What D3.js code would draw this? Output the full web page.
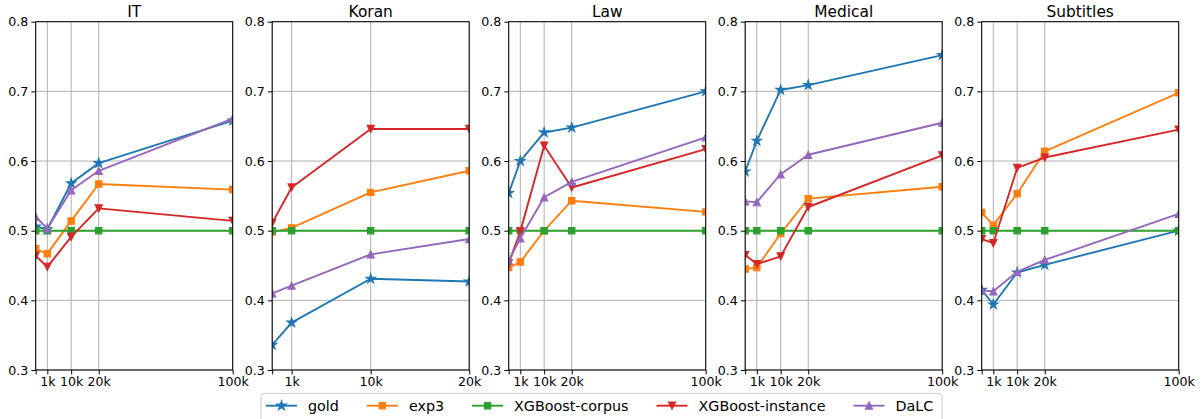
<!DOCTYPE html>
<html>
<head>
<meta charset="utf-8">
<script src="https://cdn.jsdelivr.net/npm/d3@7"></script>
<style>
  body { margin: 0; background: #fff; }
  svg { display: block; font-family: "DejaVu Sans", sans-serif; }
</style>
</head>
<body>
<div id="chart"></div>
<script>
// data
const domains = ['IT', 'Koran', 'Law', 'Medical', 'Subtitles']
const methods = ['gold', 'exp3', 'XGBoost-corpus', 'XGBoost-instance', 'DaLC']
const sizesFull = [0, 1000, 10000, 20000, 100000]
const sizesKoran = [0, 1000, 10000, 20000]
const yTicks = [0.3, 0.4, 0.5, 0.6, 0.7, 0.8]

// one row per domain, one value per sample size
const gold = [
  [0.506, 0.502, 0.568, 0.597, 0.658],
  [0.336, 0.368, 0.431, 0.427],
  [0.554, 0.600, 0.641, 0.648, 0.700],
  [0.585, 0.629, 0.702, 0.709, 0.752],
  [0.415, 0.394, 0.440, 0.451, 0.500]
]
const exp3 = [
  [0.474, 0.467, 0.514, 0.567, 0.559],
  [0.498, 0.504, 0.555, 0.586],
  [0.447, 0.455, 0.500, 0.543, 0.527],
  [0.445, 0.447, 0.496, 0.546, 0.563],
  [0.526, 0.508, 0.553, 0.614, 0.698]
]
const xgbCorpus = [
  [0.5, 0.5, 0.5, 0.5, 0.5],
  [0.5, 0.5, 0.5, 0.5],
  [0.5, 0.5, 0.5, 0.5, 0.5],
  [0.5, 0.5, 0.5, 0.5, 0.5],
  [0.5, 0.5, 0.5, 0.5, 0.5]
]
const xgbInstance = [
  [0.464, 0.448, 0.491, 0.532, 0.514],
  [0.511, 0.562, 0.646, 0.646],
  [0.453, 0.499, 0.622, 0.562, 0.617],
  [0.465, 0.452, 0.463, 0.534, 0.608],
  [0.488, 0.482, 0.590, 0.605, 0.645]
]
const dalc = [
  [0.520, 0.503, 0.558, 0.586, 0.661],
  [0.410, 0.421, 0.466, 0.488],
  [0.457, 0.489, 0.548, 0.570, 0.634],
  [0.542, 0.541, 0.581, 0.609, 0.655],
  [0.414, 0.413, 0.441, 0.458, 0.524]
]
const seriesValues = [gold, exp3, xgbCorpus, xgbInstance, dalc]

// styles
const colors = ['#1f77b4', '#ff7f0e', '#2ca02c', '#d62728', '#9467bd']

// matplotlib style triangles
const triUp = {
  draw(ctx, size) {
    const h = Math.sqrt(size) / 2
    ctx.moveTo(0, -h); ctx.lineTo(h, h); ctx.lineTo(-h, h); ctx.closePath()
  }
}
const triDown = {
  draw(ctx, size) {
    const h = Math.sqrt(size) / 2
    ctx.moveTo(0, h); ctx.lineTo(h, -h); ctx.lineTo(-h, -h); ctx.closePath()
  }
}
const markers = [
  d3.symbol(d3.symbolStar, 28),
  d3.symbol(d3.symbolSquare, 40),
  d3.symbol(d3.symbolSquare, 40),
  d3.symbol(triDown, 52),
  d3.symbol(triUp, 52)
]

// dimensions
const width = 1203, height = 419
const panel = { left: 35.7, step: 236.5, width: 197, top: 21.7, bottom: 370 }

const svg = d3.select('#chart')
              .append('svg')
              .attr('width', width)
              .attr('height', height)

const yScale = d3.scaleLinear()
                 .domain([0.3, 0.8])
                 .range([panel.bottom, panel.top])

const fmtK = v => v === 0 ? '' : (v / 1000) + 'k'

domains.forEach((name, di) => {
  const sizes = name === 'Koran' ? sizesKoran : sizesFull
  const stops = name === 'Koran' ? [0, 0.0985, 0.5, 1] : [0, 0.059, 0.18, 0.32, 1]
  const x0 = panel.left + di * panel.step

  const xScale = d3.scaleLinear()
                   .domain(sizes)
                   .range(stops.map(s => x0 + s * panel.width))

  const g = svg.append('g')

  // clip
  g.append('clipPath')
   .attr('id', 'clip' + di)
   .append('rect')
   .attr('x', x0)
   .attr('y', panel.top)
   .attr('width', panel.width)
   .attr('height', panel.bottom - panel.top)

  // grid
  g.append('g').selectAll('line')
   .data(yTicks)
   .join('line')
   .attr('x1', x0).attr('x2', x0 + panel.width)
   .attr('y1', d => yScale(d)).attr('y2', d => yScale(d))
   .attr('stroke', '#b0b0b0').attr('stroke-width', 1)

  g.append('g').selectAll('line')
   .data(sizes)
   .join('line')
   .attr('x1', d => xScale(d)).attr('x2', d => xScale(d))
   .attr('y1', panel.top).attr('y2', panel.bottom)
   .attr('stroke', '#b0b0b0').attr('stroke-width', 1)

  // axes
  const yAxis = d3.axisLeft(yScale)
                  .tickValues(yTicks)
                  .tickFormat(d3.format('.1f'))
                  .tickSize(4.4)
                  .tickSizeOuter(0)
                  .tickPadding(3)
  const yg = g.append('g')
              .attr('transform', `translate(${x0},0)`)
              .call(yAxis)
  const xAxis = d3.axisBottom(xScale)
                  .tickValues(sizes)
                  .tickFormat(fmtK)
                  .tickSize(4.4)
                  .tickSizeOuter(0)
                  .tickPadding(3)
  const xg = g.append('g')
              .attr('transform', `translate(0,${panel.bottom})`)
              .call(xAxis)

  ;[yg, xg].forEach(ax => {
    ax.select('.domain').remove()
    ax.selectAll('text')
      .attr('font-family', 'DejaVu Sans')
      .attr('font-size', '12.6px')
      .attr('fill', '#000')
    ax.selectAll('line').attr('stroke', '#000').attr('stroke-width', 1)
  })

  // data lines
  const plot = g.append('g').attr('clip-path', `url(#clip${di})`)
  seriesValues.forEach((series, si) => {
    const pts = series[di].map((v, i) => [sizes[i], v])
    const line = d3.line()
                   .x(d => xScale(d[0]))
                   .y(d => yScale(d[1]))
    plot.append('path')
        .datum(pts)
        .attr('d', line)
        .attr('fill', 'none')
        .attr('stroke', colors[si])
        .attr('stroke-width', 1.9)
        .attr('stroke-linejoin', 'round')
    plot.append('g').selectAll('path')
        .data(pts)
        .join('path')
        .attr('d', markers[si])
        .attr('transform', d => `translate(${xScale(d[0])},${yScale(d[1])})`)
        .attr('fill', colors[si])
        .attr('stroke', colors[si])
        .attr('stroke-width', 1.1)
        .attr('stroke-linejoin', 'miter')
  })

  // frame
  g.append('rect')
   .attr('x', x0)
   .attr('y', panel.top)
   .attr('width', panel.width)
   .attr('height', panel.bottom - panel.top)
   .attr('fill', 'none')
   .attr('stroke', '#000')
   .attr('stroke-width', 1)

  // title
  g.append('text')
   .attr('x', x0 + panel.width / 2)
   .attr('y', 17)
   .attr('text-anchor', 'middle')
   .attr('font-size', '15.4px')
   .attr('font-family', 'DejaVu Sans')
   .text(name)
})

// legend
const legend = svg.append('g')
legend.append('rect')
      .attr('x', 261)
      .attr('y', 393.5)
      .attr('width', 681)
      .attr('height', 34)
      .attr('rx', 3)
      .attr('fill', '#fff')
      .attr('fill-opacity', 0.8)
      .attr('stroke', '#cccccc')
      .attr('stroke-width', 1)

let lx = 266
const ly = 405.7
methods.forEach((m, si) => {
  legend.append('line')
        .attr('x1', lx).attr('x2', lx + 31)
        .attr('y1', ly).attr('y2', ly)
        .attr('stroke', colors[si])
        .attr('stroke-width', 1.9)
  legend.append('path')
        .attr('d', markers[si]())
        .attr('transform', `translate(${lx + 15.5},${ly})`)
        .attr('fill', colors[si])
        .attr('stroke', colors[si])
        .attr('stroke-width', 1.1)
  const t = legend.append('text')
                  .attr('x', lx + 42)
                  .attr('y', ly + 5)
                  .attr('font-size', '14.3px')
                  .attr('font-family', 'DejaVu Sans')
                  .text(m)
  lx += 42 + t.node().getComputedTextLength() + 28
})
</script>
</body>
</html>
